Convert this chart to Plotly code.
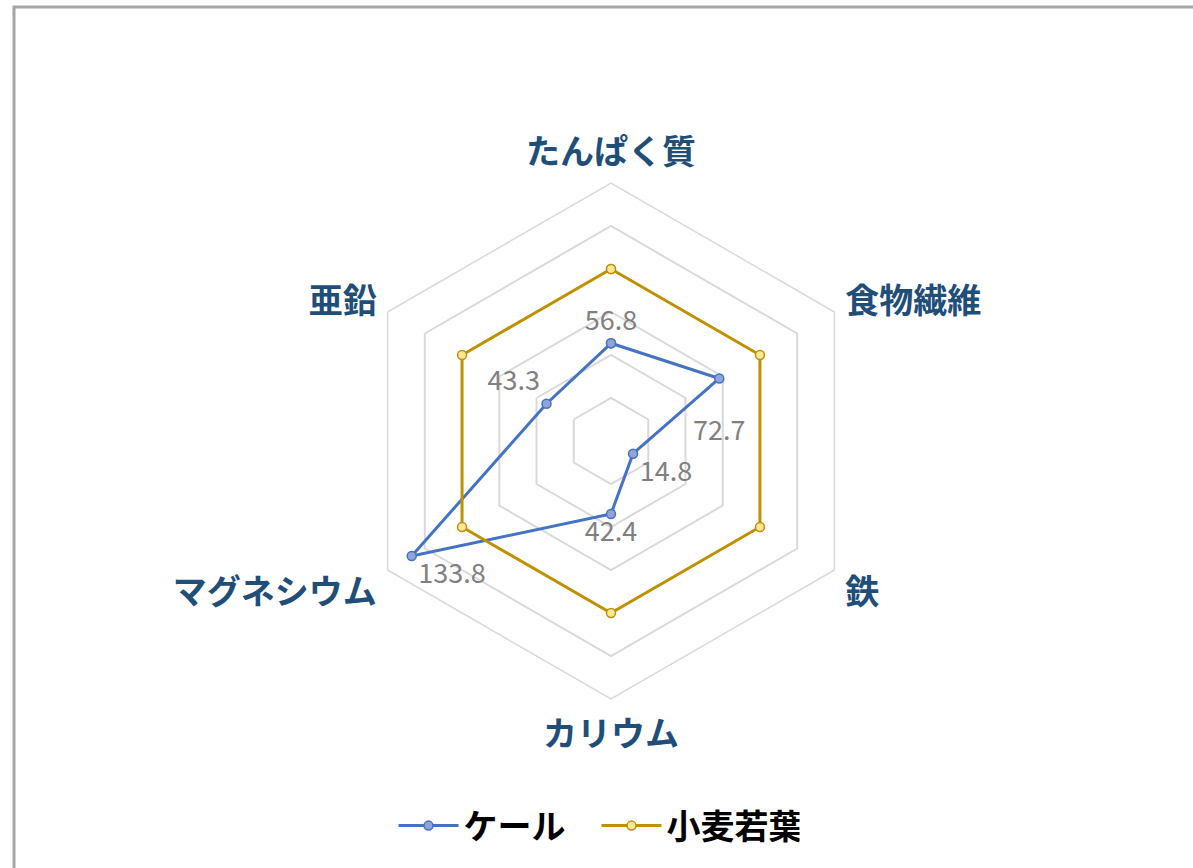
import plotly.graph_objects as go

categories = ["たんぱく質", "食物繊維", "鉄", "カリウム", "マグネシウム", "亜鉛"]
kale = [56.8, 72.7, 14.8, 42.4, 133.8, 43.3]
wheat = [100, 100, 100, 100, 100, 100]
kale_text_pos = ["top center", "bottom center", "bottom right", "bottom center", "bottom right", "top left"]

W, H = 1193, 868
cx, cy, R = 611, 441, 258

def closed(v):
    return list(v) + [v[0]]

labels = [f"{v}" for v in kale]
labels[1] = "<br>" + labels[1]  # pushes this label further below its point

fig = go.Figure()
fig.add_trace(go.Scatterpolar(
    r=closed(kale), theta=closed(categories), name="ケール",
    mode="lines+markers+text",
    text=labels + [""],
    textposition=kale_text_pos + ["top center"],
    textfont=dict(family="Noto Sans CJK JP", size=27, color="#808080"),
    line=dict(color="#4472c4", width=3),
    marker=dict(symbol="circle", size=9, color="#8fa5d8", line=dict(color="#4472c4", width=1.5)),
    cliponaxis=False,
))
fig.add_trace(go.Scatterpolar(
    r=closed(wheat), theta=closed(categories), name="小麦若葉",
    mode="lines+markers",
    line=dict(color="#bf9000", width=3),
    marker=dict(symbol="circle", size=9, color="#ffe699", line=dict(color="#bf9000", width=1.5)),
    cliponaxis=False,
))

fig.update_layout(
    width=W, height=H,
    margin=dict(l=0, r=0, t=0, b=0),
    paper_bgcolor="white",
    plot_bgcolor="white",
    font=dict(family="Noto Sans CJK JP"),
    polar=dict(
        domain=dict(x=[(cx - R) / W, (cx + R) / W], y=[1 - (cy + R) / H, 1 - (cy - R) / H]),
        gridshape="linear",
        bgcolor="white",
        radialaxis=dict(range=[0, 150], dtick=25, showticklabels=False, ticks="",
                        showline=False, gridcolor="#d9d9d9", gridwidth=1.5),
        angularaxis=dict(rotation=90, direction="clockwise", showgrid=False,
                         linecolor="#d9d9d9", linewidth=1.5,
                         ticks="outside", ticklen=5, tickcolor="rgba(0,0,0,0)",
                         tickfont=dict(family="Noto Sans CJK JP", size=34, color="#1f4e79", weight="bold")),
    ),
    legend=dict(orientation="h", x=0.5, xanchor="center", y=1 - 826 / H, yanchor="middle",
                font=dict(family="Noto Sans CJK JP", size=34, color="black", weight="bold"),
                itemwidth=60, entrywidth=128),
    shapes=[dict(type="path", xref="paper", yref="paper",
                 path=f"M {14/W} 0 L {14/W} {1-7/H} L 1 {1-7/H}",
                 line=dict(color="#a6a6a6", width=3))],
)

fig.write_html("out.html")
